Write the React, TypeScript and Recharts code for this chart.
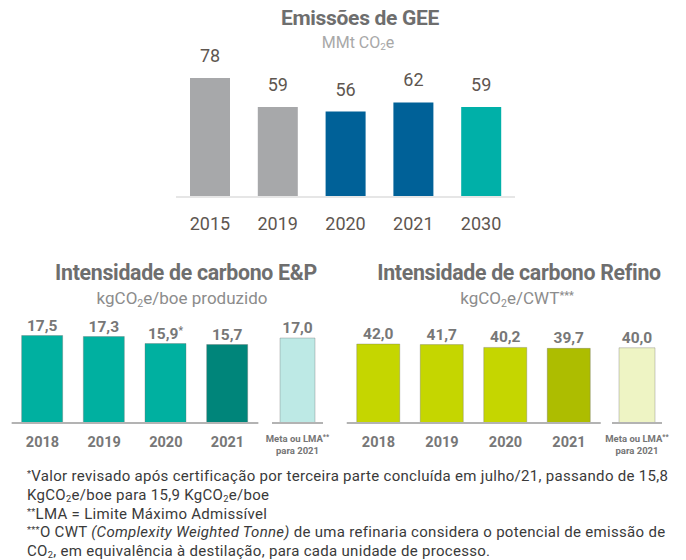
import React from "react";
import { BarChart, Bar, XAxis, YAxis, Cell, LabelList } from "recharts";

// Emissões de GEE (MMt CO2e)
const geeYears = ["2015", "2019", "2020", "2021", "2030"];
const geeValues = [78, 59, 56, 62, 59];
const geeColors = ["#a7a8aa", "#a7a8aa", "#006198", "#006198", "#00b0a8"];

// Intensidade de carbono E&P (kgCO2e/boe)
const epYears = ["2018", "2019", "2020", "2021"];
const epValues = [17.5, 17.3, 15.9, 15.7];
const epNotes = ["", "", "*", ""];
const epColors = ["#00b0a0", "#00b0a0", "#00b0a0", "#00857a"];
const epTarget = 17.0;

// Intensidade de carbono Refino (kgCO2e/CWT)
const refYears = ["2018", "2019", "2020", "2021"];
const refValues = [42.0, 41.7, 40.2, 39.7];
const refColors = ["#c5d600", "#c5d600", "#c5d600", "#adbd00"];
const refTarget = 40.0;

const targetLabel = ["Meta ou LMA**", "para 2021"];

const FONT = "Roboto, 'Open Sans', sans-serif";
const fmt = (v: number) => v.toFixed(1).replace(".", ",");

function YearTick({ x, y, payload, dy, size, bold, fill }: any) {
  return (
    <text
      x={x}
      y={y + dy}
      textAnchor="middle"
      fontFamily={FONT}
      fontSize={size}
      fontWeight={bold ? 700 : 400}
      fill={fill}
    >
      {payload.value}
    </text>
  );
}

function TargetTick({ x, y }: any) {
  return (
    <text
      x={x}
      y={y}
      textAnchor="middle"
      fontFamily={FONT}
      fontSize={9.5}
      fontWeight={700}
      fill="#757575"
    >
      <tspan x={x} dy={18.5}>
        Meta ou LMA<tspan fontSize={7} dy={-3}>**</tspan>
      </tspan>
      <tspan x={x} dy={15}>
        {targetLabel[1]}
      </tspan>
    </text>
  );
}

function ValueLabel({ x, y, width, value, index, offset, notes }: any) {
  const note = notes ? notes[index] : "";
  return (
    <text
      x={x + width / 2}
      y={y - offset}
      textAnchor="middle"
      fontFamily={FONT}
      fontSize={15.5}
      fontWeight={700}
      fill="#777777"
    >
      {fmt(value)}
      {note && (
        <tspan fontSize={10} dy={-5}>
          {note}
        </tspan>
      )}
    </text>
  );
}

function SmallPanel({
  left,
  width,
  mLeft,
  mRight,
  mTop,
  domain,
  barSize,
  data,
  colors,
  notes,
  labelOffset,
  target,
}: any) {
  return (
    <div style={{ position: "absolute", left, top: 300 }}>
      <BarChart
        width={width}
        height={160}
        data={data}
        margin={{ top: mTop, right: mRight, bottom: 0, left: mLeft }}
      >
        <XAxis
          dataKey="name"
          axisLine={{ stroke: "#b3b3b3", strokeWidth: 2 }}
          tickLine={false}
          tickSize={0}
          tickMargin={0}
          height={37}
          interval={0}
          tick={
            target ? (
              <TargetTick />
            ) : (
              <YearTick dy={24} size={14.5} bold fill="#777777" />
            )
          }
        />
        <YAxis hide domain={domain} />
        <Bar
          dataKey="value"
          barSize={barSize}
          isAnimationActive={false}
          stroke="rgba(110,110,110,0.35)"
          strokeWidth={1}
        >
          {data.map((_: any, i: number) => (
            <Cell key={i} fill={colors[i]} />
          ))}
          <LabelList
            dataKey="value"
            content={<ValueLabel offset={labelOffset} notes={notes} />}
          />
        </Bar>
      </BarChart>
    </div>
  );
}

const sub = { fontSize: "0.62em", verticalAlign: "-0.25em", lineHeight: 0 } as const;
const sup = { fontSize: "0.62em", verticalAlign: "0.45em", lineHeight: 0 } as const;

export default function App() {
  const geeData = geeYears.map((name, i) => ({ name, value: geeValues[i] }));
  const epData = epYears.map((name, i) => ({ name, value: epValues[i] }));
  const refData = refYears.map((name, i) => ({ name, value: refValues[i] }));

  const title: React.CSSProperties = {
    position: "absolute",
    transform: "translateX(-50%)",
    whiteSpace: "nowrap",
    fontFamily: FONT,
    fontWeight: 700,
    color: "#6e6e6e",
    fontSize: 21.3,
    lineHeight: "21px",
    letterSpacing: -0.3,
  };
  const subtitle: React.CSSProperties = {
    position: "absolute",
    transform: "translateX(-50%)",
    whiteSpace: "nowrap",
    fontFamily: FONT,
    color: "#8c8c8c",
    fontSize: 17,
    lineHeight: "17px",
  };
  const noteLine: React.CSSProperties = { height: 18.8, lineHeight: "18.8px" };

  return (
    <div
      style={{
        position: "absolute",
        left: 0,
        top: 0,
        width: 686,
        height: 560,
        background: "#ffffff",
        overflow: "hidden",
      }}
    >
      {/* top chart */}
      <div style={{ ...title, left: 360, top: 8, fontSize: 21, lineHeight: "21px" }}>
        Emissões de GEE
      </div>
      <div style={{ ...subtitle, left: 358, top: 34, color: "#a8a8a8", fontSize: 16 }}>
        MMt CO<span style={sub}>2</span>e
      </div>
      <div style={{ position: "absolute", left: 0, top: 0 }}>
        <BarChart
          width={686}
          height={240}
          data={geeData}
          margin={{ top: 44.4, right: 171, bottom: 0, left: 176 }}
        >
          <XAxis
            dataKey="name"
            axisLine={{ stroke: "#e6e6e6", strokeWidth: 2 }}
            tickLine={false}
            tickSize={0}
            tickMargin={0}
            height={43}
            interval={0}
            tick={<YearTick dy={32.5} size={18} fill="#5e5650" />}
          />
          <YAxis hide domain={[0, 100]} />
          <Bar dataKey="value" barSize={40} isAnimationActive={false}>
            {geeData.map((_, i) => (
              <Cell key={i} fill={geeColors[i]} />
            ))}
            <LabelList
              dataKey="value"
              position="top"
              offset={16}
              fill="#5e5650"
              fontSize={18}
              fontFamily={FONT}
            />
          </Bar>
        </BarChart>
      </div>

      {/* E&P */}
      <div style={{ ...title, left: 186, top: 262 }}>Intensidade de carbono E&amp;P</div>
      <div style={{ ...subtitle, left: 182, top: 290 }}>
        kgCO<span style={sub}>2</span>e/boe produzido
      </div>
      <SmallPanel
        left={0}
        width={270}
        mLeft={11.65}
        mRight={11.65}
        mTop={23}
        domain={[0, 20]}
        barSize={41}
        data={epData}
        colors={epColors}
        notes={epNotes}
        labelOffset={5}
      />
      <SmallPanel
        left={262}
        width={70}
        mLeft={10}
        mRight={9}
        mTop={23}
        domain={[0, 20]}
        barSize={35}
        data={[{ name: "meta", value: epTarget }]}
        colors={["#bde9e5"]}
        labelOffset={5}
        target
      />

      {/* Refino */}
      <div style={{ ...title, left: 519, top: 262 }}>Intensidade de carbono Refino</div>
      <div style={{ ...subtitle, left: 517, top: 290 }}>
        kgCO<span style={sub}>2</span>e/CWT<span style={{ ...sup, fontWeight: 700 }}>***</span>
      </div>
      <SmallPanel
        left={340}
        width={270}
        mLeft={6.75}
        mRight={9.25}
        mTop={29}
        domain={[0, 50]}
        barSize={43}
        data={refData}
        colors={refColors}
        labelOffset={2.5}
      />
      <SmallPanel
        left={602}
        width={70}
        mLeft={10}
        mRight={10}
        mTop={29}
        domain={[0, 50]}
        barSize={36}
        data={[{ name: "meta", value: refTarget }]}
        colors={["#eef4c4"]}
        labelOffset={2.5}
        target
      />

      {/* footnotes */}
      <div
        style={{
          position: "absolute",
          left: 27,
          top: 467,
          fontFamily: FONT,
          fontSize: 15,
          letterSpacing: 0.3,
          color: "#3a3a3a",
          whiteSpace: "nowrap",
        }}
      >
        <div style={noteLine}>
          <span style={sup}>*</span>Valor revisado após certificação por terceira parte concluída em julho/21, passando de 15,8
        </div>
        <div style={noteLine}>
          KgCO<span style={sub}>2</span>e/boe para 15,9 KgCO<span style={sub}>2</span>e/boe
        </div>
        <div style={noteLine}>
          <span style={sup}>**</span>LMA = Limite Máximo Admissível
        </div>
        <div style={noteLine}>
          <span style={sup}>***</span>O CWT <i>(Complexity Weighted Tonne)</i> de uma refinaria considera o potencial de emissão de
        </div>
        <div style={noteLine}>
          CO<span style={sub}>2</span>, em equivalência à destilação, para cada unidade de processo.
        </div>
      </div>
    </div>
  );
}
